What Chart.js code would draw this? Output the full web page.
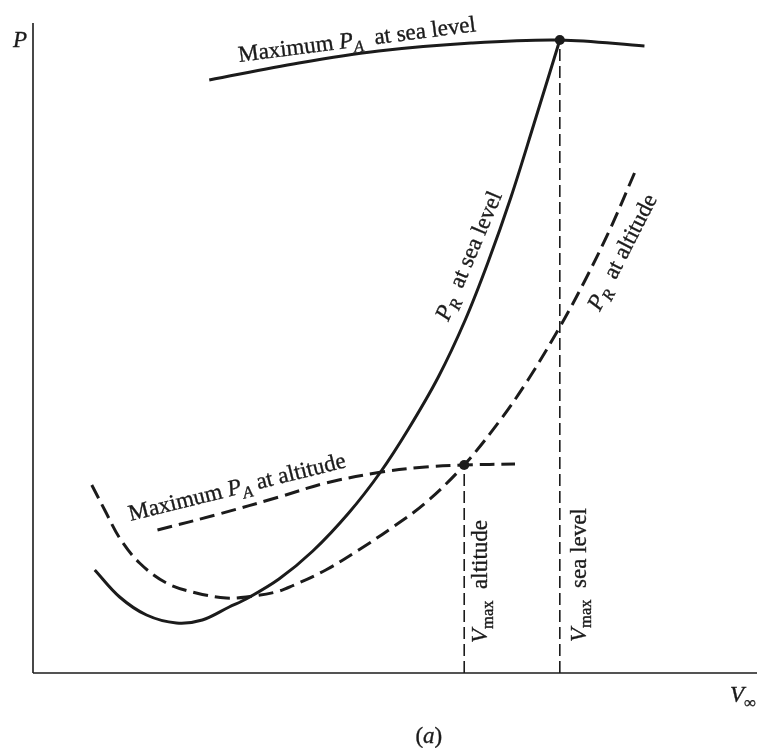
<!DOCTYPE html>
<html>
<head>
<meta charset="utf-8">
<script src="https://cdn.jsdelivr.net/npm/chart.js@4"></script>
<style>
  body { margin: 0; background: #fff; }
  #wrap { width: 762px; height: 748px; }
</style>
</head>
<body>
<div id="wrap"><canvas id="perf" width="762" height="748"></canvas></div>
<script>
// power required / available curves (arbitrary units)
const vPRsea = [62, 87, 114, 144, 170, 197, 214, 247, 281, 317, 349, 377, 407, 434, 457, 480, 503, 529];
const pPRsea = [103, 76, 58, 50, 53, 66, 74, 94, 122, 160, 201, 244, 296, 353, 411, 476, 549, 633];

const vPRalt = [59, 72, 87, 107, 134, 164, 194, 214, 244, 260, 294, 327, 360, 394, 433, 470, 497, 529, 554, 580, 604];
const pPRalt = [188, 163, 135, 110, 90, 80, 75, 76, 81, 87, 103, 123, 145, 170, 208, 254, 293, 346, 392, 445, 500];

const vPAsea = [177, 267, 347, 440, 529, 614];
const pPAsea = [593, 610, 622, 630, 633, 627];

const vPAalt = [125, 187, 247, 294, 350, 394, 433, 484];
const pPAalt = [143, 159, 176, 190, 201, 206, 208, 209];

// V max points
const vMax = [433, 529];
const pMax = [208, 633];

const xMax = 727;
const yMax = 650;

const INK = "#1b1b1b";
const FONT = '"Liberation Serif", "Times New Roman", serif';

function pts(xs, ys) {
  return xs.map((x, i) => ({ x: x, y: ys[i] }));
}

function curve(data, dashed) {
  return {
    data: data,
    showLine: true,
    borderColor: INK,
    borderWidth: 3,
    borderDash: dashed ? [15, 7] : [],
    pointRadius: 0,
    tension: 0.35,
    clip: false
  };
}

function guide(data, dash, width) {
  return {
    data: data,
    showLine: true,
    borderColor: INK,
    borderWidth: width,
    borderDash: dash,
    pointRadius: 0,
    tension: 0,
    clip: false
  };
}

// text labels: parts are [text, kind] with kind n / i (italic) / s (sub) / si (italic sub)
const labels = [
  { at: [207, 611], rot: -7.4, parts: [["Maximum ", "n"], ["P", "i"], ["A", "si"], ["  at sea level", "n"]] },
  { at: [98, 152], rot: -14, parts: [["Maximum ", "n"], ["P", "i"], ["A", "si"], [" at altitude", "n"]] },
  { at: [417, 351], rot: -67, parts: [["P", "i"], ["R", "si"], ["  at sea level", "n"]] },
  { at: [569, 361], rot: -63, parts: [["P", "i"], ["R", "si"], ["  at altitude", "n"]] },
  { at: [456, 30], rot: -90, parts: [["V", "i"], ["max", "s"], ["  altitude", "n"]] },
  { at: [555, 31], rot: -90, parts: [["V", "i"], ["max", "s"], ["  sea level", "n"]] },
  { at: [-20, 626], rot: 0, parts: [["P", "i"]] },
  { at: [700, -29], rot: 0, parts: [["V", "i"], ["\u221E", "s"]] },
  { at: [384, -70], rot: 0, parts: [["(", "n"], ["a", "i"], [")", "n"]] }
];

function drawRich(ctx, parts, x, y, deg, size) {
  ctx.save();
  ctx.translate(x, y);
  ctx.rotate(deg * Math.PI / 180);
  ctx.fillStyle = INK;
  ctx.strokeStyle = INK;
  ctx.lineWidth = 0.35;
  ctx.textBaseline = "alphabetic";
  ctx.textAlign = "left";
  let cx = 0;
  parts.forEach(([t, kind]) => {
    let f = size, dy = 0, style = "";
    if (kind === "i") style = "italic ";
    if (kind === "si") { style = "italic "; f = size * 0.72; dy = size * 0.24; }
    if (kind === "s") { f = size * 0.72; dy = size * 0.24; }
    ctx.font = style + f + "px " + FONT;
    ctx.fillText(t, cx, dy);
    ctx.strokeText(t, cx, dy);
    cx += ctx.measureText(t).width;
  });
  ctx.restore();
}

const labelPlugin = {
  id: "labels",
  afterDatasetsDraw(chart) {
    const ctx = chart.ctx;
    const sx = chart.scales.x, sy = chart.scales.y;
    labels.forEach(l => {
      drawRich(ctx, l.parts, sx.getPixelForValue(l.at[0]), sy.getPixelForValue(l.at[1]), l.rot, 23);
    });
  }
};

new Chart(document.getElementById("perf"), {
  type: "scatter",
  data: {
    datasets: [
      // axes
      guide([{ x: 0, y: 0 }, { x: xMax, y: 0 }], [], 1.6),
      guide([{ x: 0, y: 0 }, { x: 0, y: yMax }], [], 1.6),
      // V max drop lines
      guide([{ x: vMax[0], y: 0 }, { x: vMax[0], y: pMax[0] }], [12, 5], 1.6),
      guide([{ x: vMax[1], y: 0 }, { x: vMax[1], y: pMax[1] }], [12, 5], 1.6),
      curve(pts(vPAsea, pPAsea), false),
      curve(pts(vPAalt, pPAalt), true),
      curve(pts(vPRsea, pPRsea), false),
      curve(pts(vPRalt, pPRalt), true),
      {
        data: pts(vMax, pMax),
        showLine: false,
        pointRadius: 5,
        pointBackgroundColor: INK,
        pointBorderWidth: 0,
        clip: false
      }
    ]
  },
  options: {
    responsive: false,
    animation: false,
    layout: { padding: { left: 33, right: 2, top: 23, bottom: 75 } },
    plugins: { legend: { display: false }, tooltip: { enabled: false } },
    scales: {
      x: { type: "linear", min: 0, max: xMax, display: false },
      y: { type: "linear", min: 0, max: yMax, display: false }
    }
  },
  plugins: [labelPlugin]
});
</script>
</body>
</html>
